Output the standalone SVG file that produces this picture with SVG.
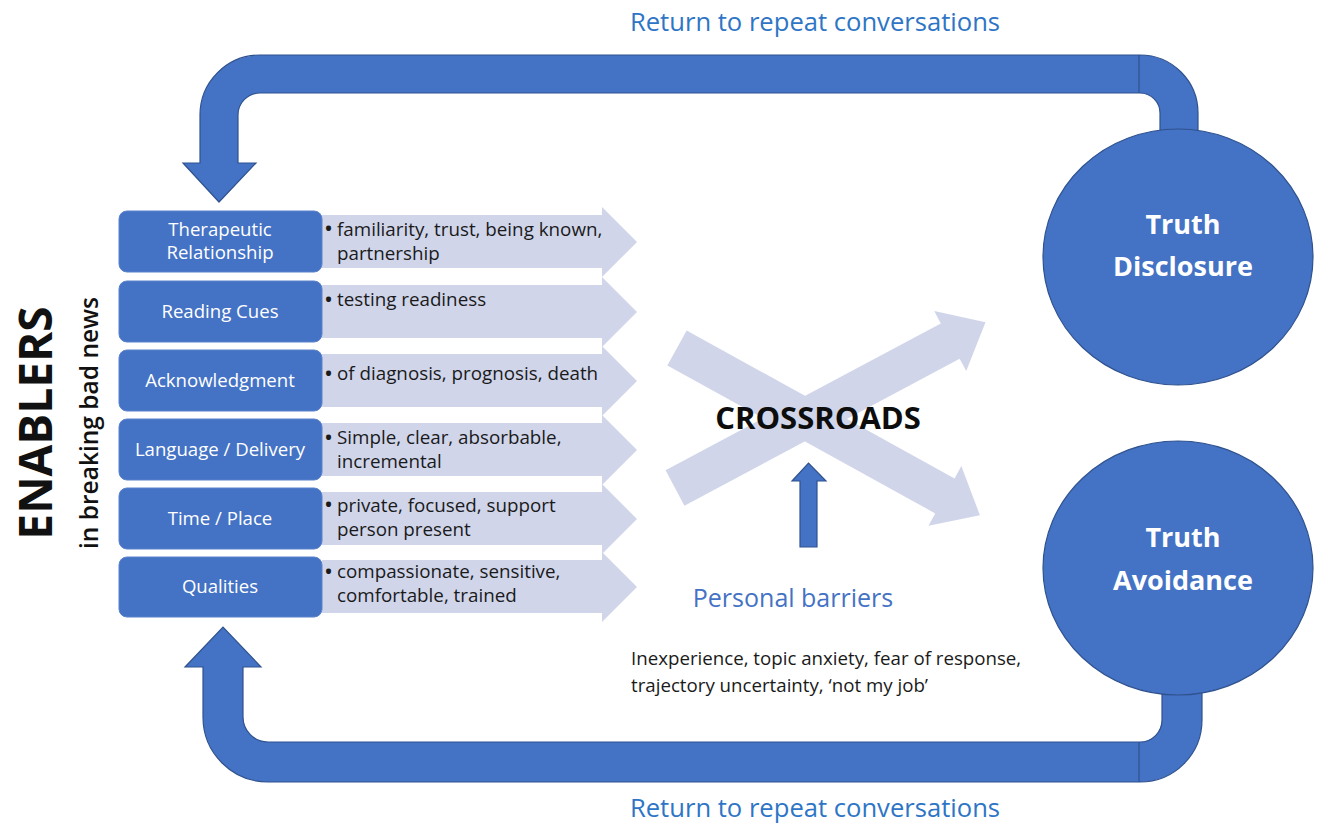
<svg xmlns="http://www.w3.org/2000/svg" width="1325" height="824" viewBox="0 0 1325 824">
  <defs>
    <style>
      .txt { font-family: "Open Sans", Lato, "Liberation Sans", sans-serif; }
      .loop { fill: #4472C4; stroke: #2F528F; stroke-width: 1.2; }
      .seam { stroke: #2F528F; stroke-width: 1.2; }
      .box { fill: #4472C4; stroke: #5B82CC; stroke-width: 1; }
      .boxlabel { fill: #FFFFFF; font-size: 18.6px; text-anchor: middle; }
      .band { fill: #D0D5EA; }
      .bullet { fill: #1A1A1A; font-size: 18.8px; }
      .dot { fill: #1A1A1A; font-size: 24px; }
      .outcome { fill: #4472C4; stroke: #2F528F; stroke-width: 1.2; }
      .outlabel { fill: #FFFFFF; font-size: 27px; font-weight: 700; text-anchor: middle; }
      .return { fill: #2E75C6; font-size: 25.6px; text-anchor: middle; }
    </style>
  </defs>

  <rect width="1325" height="824" fill="#FFFFFF"/>

  <!-- loop-back connectors and crossroads arrows -->
  <g id="connectors">
    <path class="loop" d="M 1160 140 L 1160 113 A 20 20 0 0 0 1140 93 L 260 93 A 22 22 0 0 0 238 115 L 238 163 L 256 163 L 219 202 L 183 163 L 200 163 L 200 115 A 60 60 0 0 1 260 55 L 1140 55 A 58 58 0 0 1 1198 113 L 1198 140 Z"/>
    <line class="seam" x1="1139" y1="55" x2="1139" y2="93"/>
    <path class="loop" d="M 1162 680 L 1162 720 A 22 22 0 0 1 1140 742 L 268 742 A 25 25 0 0 1 243 717 L 243 667 L 261 667 L 223 627 L 185 667 L 203 667 L 203 717 A 65 65 0 0 0 268 782 L 1140 782 A 62 62 0 0 0 1202 720 L 1202 680 Z"/>
    <line class="seam" x1="1139" y1="742" x2="1139" y2="782"/>

    <!-- crossing light arrows -->
    <g fill="#D0D5EA">
      <path transform="translate(675 488) rotate(-28.1)" d="M 0 -20 L 312 -20 L 312 -34 L 352 0 L 312 34 L 312 20 L 0 20 Z"/>
      <path transform="translate(677 348) rotate(28.9)" d="M 0 -20 L 306 -20 L 306 -34 L 346 0 L 306 34 L 306 20 L 0 20 Z"/>
    </g>

    <!-- personal barriers arrow -->
    <path class="loop" d="M 800 547 L 800 481 L 792 481 L 808.5 463 L 826 481 L 817 481 L 817 547 Z"/>
  </g>

  <!-- heading -->
  <g id="enablers-title" class="txt">
    <text transform="translate(52 423) rotate(-90)" font-size="46" font-weight="700" fill="#111111" text-anchor="middle">ENABLERS</text>
    <text transform="translate(98 423) rotate(-90)" font-size="24.5" font-weight="600" fill="#111111" text-anchor="middle">in breaking bad news</text>
  </g>

  <!-- enabler rows -->
  <g id="row-therapeutic" class="txt">
    <path class="band" d="M 322 215 L 602 215 L 602 207 L 637 242 L 602 277 L 602 268 L 322 268 Z"/>
    <rect class="box" x="119" y="211" width="203" height="61" rx="8"/>
    <text class="boxlabel" x="220" y="236">Therapeutic<tspan x="220" dy="23">Relationship</tspan></text>
    <text class="dot" x="324" y="237">•</text>
    <text class="bullet" x="337" y="235.5">familiarity, trust, being known,<tspan x="337" dy="24">partnership</tspan></text>
  </g>

  <g id="row-reading-cues" class="txt">
    <path class="band" d="M 322 285 L 602 285 L 602 277 L 637 312 L 602 347 L 602 338 L 322 338 Z"/>
    <rect class="box" x="119" y="281" width="203" height="61" rx="8"/>
    <text class="boxlabel" x="220" y="318">Reading Cues</text>
    <text class="dot" x="324" y="308">•</text>
    <text class="bullet" x="337" y="306">testing readiness</text>
  </g>

  <g id="row-acknowledgment" class="txt">
    <path class="band" d="M 322 354 L 602 354 L 602 346 L 637 381 L 602 416 L 602 407 L 322 407 Z"/>
    <rect class="box" x="119" y="350" width="203" height="61" rx="8"/>
    <text class="boxlabel" x="220" y="387">Acknowledgment</text>
    <text class="dot" x="324" y="382">•</text>
    <text class="bullet" x="337" y="380">of diagnosis, prognosis, death</text>
  </g>

  <g id="row-language" class="txt">
    <path class="band" d="M 322 423 L 602 423 L 602 415 L 637 450 L 602 485 L 602 476 L 322 476 Z"/>
    <rect class="box" x="119" y="419" width="203" height="61" rx="8"/>
    <text class="boxlabel" x="220" y="456">Language / Delivery</text>
    <text class="dot" x="324" y="446">•</text>
    <text class="bullet" x="337" y="444">Simple, clear, absorbable,<tspan x="337" dy="24">incremental</tspan></text>
  </g>

  <g id="row-time-place" class="txt">
    <path class="band" d="M 322 492 L 602 492 L 602 484 L 637 519 L 602 554 L 602 545 L 322 545 Z"/>
    <rect class="box" x="119" y="488" width="203" height="61" rx="8"/>
    <text class="boxlabel" x="220" y="525">Time / Place</text>
    <text class="dot" x="324" y="513">•</text>
    <text class="bullet" x="337" y="511.5">private, focused, support<tspan x="337" dy="24">person present</tspan></text>
  </g>

  <g id="row-qualities" class="txt">
    <path class="band" d="M 322 560 L 602 560 L 602 552 L 637 587 L 602 622 L 602 613 L 322 613 Z"/>
    <rect class="box" x="119" y="557" width="203" height="60" rx="8"/>
    <text class="boxlabel" x="220" y="593">Qualities</text>
    <text class="dot" x="324" y="580">•</text>
    <text class="bullet" x="337" y="578">compassionate, sensitive,<tspan x="337" dy="24">comfortable, trained</tspan></text>
  </g>

  <!-- crossroads label -->
  <g id="crossroads" class="txt">
    <text x="818" y="429" font-size="31" font-weight="700" fill="#0D0D0D" text-anchor="middle">CROSSROADS</text>
  </g>

  <!-- barriers -->
  <g id="personal-barriers" class="txt">
    <text x="793" y="607" font-size="25" fill="#4472C4" text-anchor="middle">Personal barriers</text>
    <text x="631" y="665" font-size="18.7" fill="#1A1A1A">Inexperience, topic anxiety, fear of response,<tspan x="631" dy="27">trajectory uncertainty, ‘not my job’</tspan></text>
  </g>

  <!-- outcomes -->
  <g id="truth-disclosure" class="txt">
    <ellipse class="outcome" cx="1178" cy="257" rx="135" ry="128"/>
    <text class="outlabel" x="1183" y="234">Truth<tspan x="1183" dy="42">Disclosure</tspan></text>
  </g>

  <g id="truth-avoidance" class="txt">
    <ellipse class="outcome" cx="1178" cy="568" rx="135" ry="127"/>
    <text class="outlabel" x="1183" y="547">Truth<tspan x="1183" dy="43">Avoidance</tspan></text>
  </g>

  <!-- loop labels -->
  <g id="return-labels" class="txt">
    <text class="return" x="815" y="31">Return to repeat conversations</text>
    <text class="return" x="815" y="817">Return to repeat conversations</text>
  </g>
</svg>
